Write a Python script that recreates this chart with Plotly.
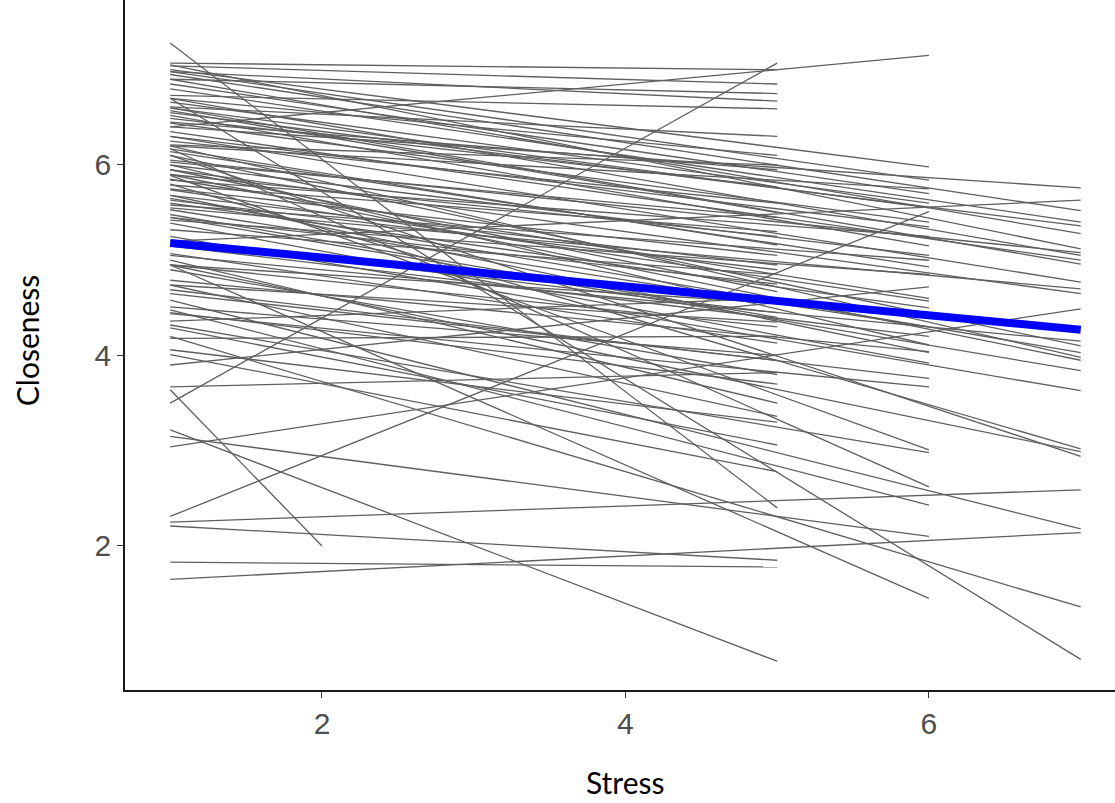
import plotly.graph_objects as go

# Per-subject fitted lines: start value at Stress = 1, last Stress value, value at last Stress
start_y = [
    # lines ending at Stress = 7
    6.40, 5.20, 6.95, 6.55, 6.90, 7.05, 6.05, 6.70, 6.60, 6.30, 5.95, 3.04, 5.05,
    5.65, 6.20, 5.90, 5.45, 5.25, 5.80, 4.95, 6.10, 2.25, 4.58, 1.65, 4.20, 6.70,
    6.80, 6.35, 5.55, 6.10,
    # lines ending at Stress = 6
    6.40, 7.00, 6.98, 6.20, 6.66, 2.31, 6.44, 5.84, 6.52, 5.58, 6.14, 5.42, 3.90,
    5.74, 4.95, 5.53, 6.00, 4.79, 5.68, 5.39, 4.69, 4.44, 5.89, 4.32, 6.17, 4.48,
    3.15, 4.95, 6.85, 6.30, 6.00, 5.85, 5.60, 5.15, 6.60,
    # lines ending at Stress = 5
    3.50, 7.07, 7.04, 6.98, 6.73, 6.61, 6.21, 6.49, 6.57, 6.17, 5.79, 5.63, 5.95,
    5.48, 4.36, 5.07, 4.51, 4.90, 3.67, 4.74, 4.29, 4.01, 7.28, 2.21, 1.83, 3.22,
    5.00, 4.18, 5.32, 6.03, 5.68, 4.74, 4.06, 6.90, 6.45, 6.25, 5.90, 5.75, 5.45,
    5.20, 4.95, 4.65, 4.45, 6.70,
    # line ending at Stress = 2
    3.64,
]
end_x = [7] * 30 + [6] * 35 + [5] * 44 + [2]
end_y = [
    5.76, 5.63, 5.52, 5.36, 5.28, 5.12, 5.08, 5.05, 4.96, 4.77, 4.65, 4.49, 4.15,
    4.03, 3.98, 3.95, 3.84, 3.63, 3.02, 2.99, 2.94, 2.59, 2.18, 2.14, 1.36, 0.81,
    5.40, 5.00, 4.70, 4.10,
    7.15, 5.98, 5.84, 5.75, 5.60, 5.51, 5.40, 5.25, 5.15, 5.00, 4.93, 4.85, 4.72,
    4.57, 4.45, 4.30, 4.11, 4.04, 4.03, 3.92, 3.76, 3.67, 3.01, 2.98, 2.62, 2.43,
    2.10, 1.45, 5.70, 5.35, 5.05, 4.60, 4.50, 4.20, 5.55,
    7.07, 7.00, 6.85, 6.67, 6.59, 6.30, 6.00, 5.77, 5.50, 5.16, 5.30, 4.90, 4.67,
    4.40, 4.60, 4.13, 4.00, 3.80, 3.82, 3.36, 3.06, 2.78, 2.40, 1.85, 1.78, 0.79,
    3.50, 4.20, 4.85, 5.45, 4.95, 4.35, 3.30, 6.75, 5.95, 5.60, 5.25, 5.05, 4.75,
    4.45, 4.30, 3.95, 3.70, 6.10,
    2.00,
]

# Overall (fixed-effect) fit
fit_x = [1, 7]
fit_y = [5.18, 4.27]

x_ticks = [2, 4, 6]
y_ticks = [2, 4, 6]

xs, ys = [], []
for s, xe, ye in zip(start_y, end_x, end_y):
    xs += [1, xe, None]
    ys += [s, ye, None]

fig = go.Figure()
fig.add_trace(go.Scatter(x=xs, y=ys, mode="lines",
                         line=dict(color="#5f5f5f", width=1.3),
                         hoverinfo="skip", showlegend=False))
fig.add_trace(go.Scatter(x=fit_x, y=fit_y, mode="lines",
                         line=dict(color="#0000FF", width=8),
                         showlegend=False))

axis_common = dict(showgrid=False, zeroline=False, showline=True,
                   linecolor="#1a1a1a", linewidth=1.5, ticks="outside",
                   ticklen=6, tickcolor="#333333", tickwidth=1.2,
                   tickfont=dict(family="Liberation Sans, Arial", size=30, color="#4D4D4D"))

fig.update_layout(
    width=1115, height=803,
    margin=dict(l=125, r=0, t=0, b=113),
    paper_bgcolor="white", plot_bgcolor="white",
    xaxis=dict(range=[0.702, 7.226], tickvals=x_ticks, **axis_common),
    yaxis=dict(range=[0.488, 7.732], tickvals=y_ticks, **axis_common),
    annotations=[
        dict(text="Stress", xref="x", x=4, yref="paper", y=0, yanchor="top",
             yshift=-72, showarrow=False,
             font=dict(family="Lato, Open Sans", size=30, color="black")),
        dict(text="Closeness", xref="paper", x=0, xanchor="center", xshift=-98,
             yref="y", y=4.16, yanchor="middle", textangle=-90, showarrow=False,
             font=dict(family="Lato, Open Sans", size=30, color="black")),
    ],
)

fig.write_html("out.html")
